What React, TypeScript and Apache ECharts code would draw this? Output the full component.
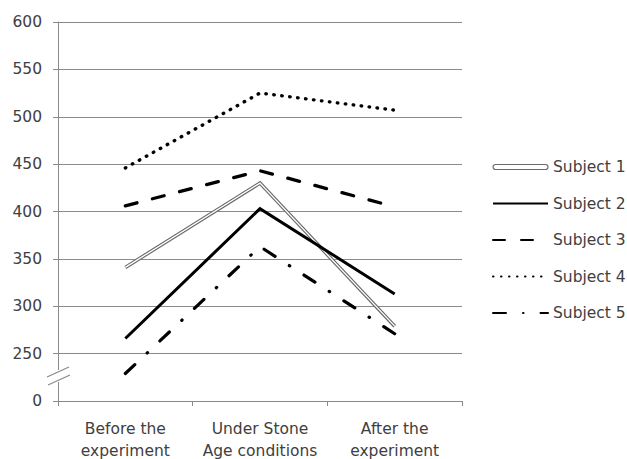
import React, { useEffect, useRef } from "react";
import * as echarts from "echarts";

const categories = ["Before the\nexperiment", "Under Stone\nAge conditions", "After the\nexperiment"];
const seriesNames = ["Subject 1", "Subject 2", "Subject 3", "Subject 4", "Subject 5"];
const subject1 = [341, 430, 279];
const subject2 = [266, 403, 313];
const subject3 = [406, 443, 405];
const subject4 = [446, 525, 507];
const subject5 = [229, 363, 271];
// the axis is broken: its lowest tick (200) is shown as "0"
const axisMin = 200;
const axisMax = 600;
const axisStep = 50;
const brokenLabel = "0";

const FONT = "DejaVu Sans";
const FS = 15.5;
const TEXT = "#404040";
const AXIS = "#8a8a8a";

export default function App() {
  const ref = useRef<HTMLDivElement>(null);
  useEffect(() => {
    const chart = echarts.init(ref.current!, null, { renderer: "svg" });
    const ink = "#000000";
    chart.setOption({
      animation: false,
      color: [ink, ink, ink, ink, ink, ink],
      textStyle: { fontFamily: FONT },
      grid: { left: 58, top: 22, width: 404, height: 379, containLabel: false, outerBoundsMode: "none" },
      xAxis: {
        type: "category",
        data: categories,
        axisLine: { lineStyle: { color: AXIS, width: 1 } },
        axisTick: { show: true, length: 5, lineStyle: { color: AXIS } },
        axisLabel: { color: TEXT, fontSize: FS, lineHeight: 22, margin: 17, fontFamily: FONT, interval: 0 },
      },
      yAxis: {
        type: "value",
        min: axisMin,
        max: axisMax,
        interval: axisStep,
        axisLine: { show: true, lineStyle: { color: AXIS, width: 1 } },
        axisTick: { show: true, length: 5, lineStyle: { color: AXIS } },
        splitLine: { lineStyle: { color: AXIS, width: 1 } },
        axisLabel: {
          color: TEXT,
          fontSize: FS,
          margin: 16,
          fontFamily: FONT,
          formatter: (v: number) => (v === axisMin ? brokenLabel : String(v)),
        },
      },
      legend: {
        orient: "vertical",
        left: 492,
        top: 158,
        padding: 0,
        itemWidth: 55,
        itemHeight: 14,
        itemGap: 18.5,
        itemStyle: { opacity: 0 },
        textStyle: { color: TEXT, fontSize: FS, lineHeight: 18, fontFamily: FONT },
        data: [
          {
            name: seriesNames[0],
            icon: "path://M2.5,0 H52.5 A2.5,2.5 0 0 1 52.5,5 H2.5 A2.5,2.5 0 0 1 2.5,0 Z",
            itemStyle: { opacity: 1, color: "#ffffff", borderColor: "#6b6b6b", borderWidth: 1.2 },
          },
          seriesNames[1],
          seriesNames[2],
          seriesNames[3],
          seriesNames[4],
        ],
      },
      series: [
        {
          name: seriesNames[0],
          type: "line",
          data: subject1,
          symbol: "none",
          lineStyle: { color: "#6b6b6b", width: 3.6, join: "miter" },
        },
        {
          name: "Subject 1 core",
          type: "line",
          data: subject1,
          symbol: "none",
          silent: true,
          lineStyle: { color: "#ffffff", width: 1.3, join: "miter" },
        },
        {
          name: seriesNames[1],
          type: "line",
          data: subject2,
          symbol: "none",
          lineStyle: { color: ink, width: 3, join: "miter" },
        },
        {
          name: seriesNames[2],
          type: "line",
          data: subject3,
          symbol: "none",
          lineStyle: { color: ink, width: 3.3, type: [12, 16], cap: "round", join: "round" },
        },
        {
          name: seriesNames[3],
          type: "line",
          data: subject4,
          symbol: "none",
          lineStyle: { color: ink, width: 3.4, type: [0.5, 7.5], cap: "round", join: "round" },
        },
        {
          name: seriesNames[4],
          type: "line",
          data: subject5,
          symbol: "none",
          lineStyle: { color: ink, width: 3.2, type: [13, 17, 0.5, 17], cap: "round", join: "round" },
        },
      ],
      graphic: [
        { type: "rect", shape: { x: 55, y: 370, width: 6, height: 12 }, style: { fill: "#ffffff" }, z: 100 },
        { type: "line", shape: { x1: 47, y1: 377, x2: 69, y2: 367 }, style: { stroke: AXIS, lineWidth: 1.2 }, z: 101 },
        { type: "line", shape: { x1: 48, y1: 385, x2: 70, y2: 375 }, style: { stroke: AXIS, lineWidth: 1.2 }, z: 101 },
      ],
    });
    return () => chart.dispose();
  }, []);
  return (
    <div
      ref={ref}
      style={{ position: "fixed", left: 0, top: 0, width: 627, height: 459, background: "#ffffff" }}
    />
  );
}
